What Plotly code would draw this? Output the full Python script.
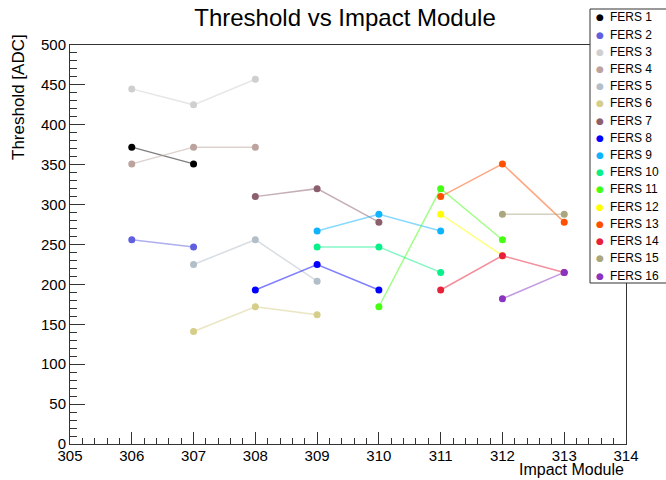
import plotly.graph_objects as go

# ---- data ----
series_names = [f"FERS {i}" for i in range(1, 17)]
series_x = [
    [306, 307],
    [306, 307],
    [306, 307, 308],
    [306, 307, 308],
    [307, 308, 309],
    [307, 308, 309],
    [308, 309, 310],
    [308, 309, 310],
    [309, 310, 311],
    [309, 310, 311],
    [310, 311, 312],
    [311, 312],
    [311, 312, 313],
    [311, 312, 313],
    [312, 313],
    [312, 313],
]
series_y = [
    [372, 351],
    [256, 247],
    [445, 425, 457],
    [351, 372, 372],
    [225, 256, 204],
    [141, 172, 162],
    [310, 320, 278],
    [193, 225, 193],
    [267, 288, 267],
    [247, 247, 215],
    [172, 320, 256],
    [288, 236],
    [310, 351, 278],
    [193, 236, 215],
    [288, 288],
    [182, 215],
]
series_colors = [
    "#000000", "#5f5fe0", "#cfcfcf", "#bca39e",
    "#b2bec8", "#d5cd8a", "#8c5f6c", "#0000ff",
    "#0fb4ff", "#08f08a", "#44ff10", "#ffff00",
    "#ff5000", "#e8203a", "#aaa67e", "#8a33c0",
]

def rgba(hexc, a):
    h = hexc.lstrip("#")
    r, g, b = int(h[0:2], 16), int(h[2:4], 16), int(h[4:6], 16)
    return f"rgba({r},{g},{b},{a})"

W, H = 666, 480
ML, MR, MT, MB = 70, 40, 45, 36
PW = W - ML - MR
PH = H - MT - MB

fig = go.Figure()
for name, xs, ys, c in zip(series_names, series_x, series_y, series_colors):
    fig.add_trace(go.Scatter(
        x=xs, y=ys, mode="lines", name=name, showlegend=False,
        line=dict(color=rgba(c, 0.5), width=1.5), hoverinfo="skip"))
for name, xs, ys, c in zip(series_names, series_x, series_y, series_colors):
    fig.add_trace(go.Scatter(
        x=xs, y=ys, mode="markers", name=name, showlegend=False,
        marker=dict(color=c, size=7, line=dict(width=0))))

font = "Liberation Sans, Arial, Helvetica, sans-serif"
axis_common = dict(
    showgrid=False, zeroline=False, showline=True, mirror=True,
    linecolor="#333333", linewidth=1, ticks="inside", tickcolor="#333333",
    tickfont=dict(family=font, size=15, color="#000000"),
)
fig.update_xaxes(range=[305, 314], dtick=1, tick0=305, ticklen=12, ticklabelstandoff=-2,
                 minor=dict(ticks="inside", dtick=0.2, ticklen=6, tickcolor="#333333"),
                 **axis_common)
fig.update_yaxes(range=[0, 500], dtick=50, tick0=0, ticklen=15,
                 minor=dict(ticks="inside", dtick=10, ticklen=7, tickcolor="#333333"),
                 **axis_common)

annotations = []
# axis titles (ROOT style: right / top aligned)
annotations.append(dict(text="Impact Module", xref="paper", yref="paper",
                        x=1.0, y=-(470 - (MT + PH)) / PH, xanchor="right", yanchor="middle",
                        showarrow=False, font=dict(family=font, size=16, color="#000")))
annotations.append(dict(text="Threshold [ADC]", xref="paper", yref="paper",
                        x=(18 - ML) / PW, y=(MT + PH - 97) / PH, xanchor="center", yanchor="middle",
                        textangle=-90, showarrow=False,
                        font=dict(family=font, size=17, color="#000")))

# legend box
lx0, lx1, ly0, ly1 = 590, 668, 9, 283
shapes = [dict(type="rect", xref="paper", yref="paper", layer="above",
               x0=(lx0 - ML) / PW, x1=(lx1 - ML) / PW,
               y0=(MT + PH - ly1) / PH, y1=(MT + PH - ly0) / PH,
               fillcolor="white", line=dict(color="#333333", width=1))]
for i, (name, c) in enumerate(zip(series_names, series_colors)):
    py = 17.5 + i * 17.2
    yp = (MT + PH - py) / PH
    annotations.append(dict(text="●", xref="paper", yref="paper",
                            x=(600 - ML) / PW, y=yp, xanchor="center", yanchor="middle",
                            showarrow=False, font=dict(family="DejaVu Sans", size=9, color=c)))
    annotations.append(dict(text=name, xref="paper", yref="paper",
                            x=(608 - ML) / PW, y=yp, xanchor="left", yanchor="middle",
                            showarrow=False, font=dict(family=font, size=12, color="#000")))

fig.update_layout(
    width=W, height=H,
    margin=dict(l=ML, r=MR, t=MT, b=MB),
    paper_bgcolor="white", plot_bgcolor="white",
    title=dict(text="Threshold vs Impact Module", x=345 / W, xanchor="center",
               y=1 - 18 / H, yanchor="middle",
               font=dict(family=font, size=24, color="#000")),
    annotations=annotations, shapes=shapes,
    showlegend=False,
)

fig.write_html("out.html", config={"displayModeBar": False},
               post_script="document.body.style.margin='0';document.body.style.overflow='hidden';")
